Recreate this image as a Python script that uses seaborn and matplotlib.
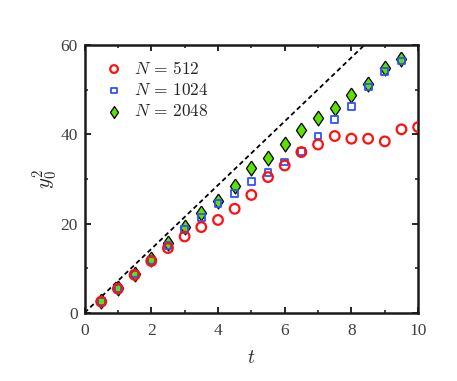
import matplotlib
matplotlib.use("Agg")
import matplotlib.pyplot as plt
import seaborn as sns
import numpy as np
import pandas as pd

t = [0.5, 1.0, 1.5, 2.0, 2.5, 3.0, 3.5, 4.0, 4.5, 5.0,
     5.5, 6.0, 6.5, 7.0, 7.5, 8.0, 8.5, 9.0, 9.5, 10.0]
y_512 = [2.5, 5.4, 8.5, 11.6, 14.5, 17.1, 19.2, 20.8, 23.3, 26.4,
         30.4, 33.0, 36.0, 37.7, 39.6, 39.0, 39.0, 38.4, 41.1, 41.6]
t_b = t[:19]
y_1024 = [2.5, 5.5, 8.7, 11.8, 15.1, 18.6, 21.3, 24.4, 26.8, 29.4,
          31.5, 33.8, 36.2, 39.6, 43.3, 46.3, 50.6, 54.0, 56.4]
y_2048 = [2.6, 5.5, 8.6, 12.1, 15.6, 19.2, 22.3, 25.1, 28.5, 32.4,
          34.7, 37.9, 40.9, 43.7, 45.9, 48.7, 51.3, 54.8, 56.8]
ref_t = [0.0, 10.0]
ref_y = [0.0, 71.5]
labels = [r"$N\,=\,512$", r"$N\,=\,1024$", r"$N\,=\,2048$"]

sns.set_style("ticks")
plt.rcParams["font.family"] = ["Liberation Serif", "DejaVu Serif"]
plt.rcParams["mathtext.fontset"] = "cm"

diamond = [(0, 1), (0.68, 0), (0, -1), (-0.68, 0), (0, 1)]

fig = plt.figure(figsize=(4.57, 3.81), dpi=100)
ax = fig.add_axes([0.185, 0.179, 0.730, 0.703])

sns.lineplot(x=ref_t, y=ref_y, ax=ax, color="black", linestyle=(0, (2.6, 1.8)),
             linewidth=1.3, zorder=1)
sns.scatterplot(x=t, y=y_512, ax=ax, marker="o", s=48, facecolor="none",
                edgecolor="#ff1010", linewidth=1.6, label=labels[0], zorder=4)
sns.scatterplot(x=t_b, y=y_1024, ax=ax, marker="s", s=24, facecolor="none",
                edgecolor="#2f55f5", linewidth=1.3, label=labels[1], zorder=3)
sns.scatterplot(x=t_b, y=y_2048, ax=ax, marker=diamond, s=115, facecolor="#5ee000",
                edgecolor="black", linewidth=0.9, label=labels[2], zorder=2)

ax.set_xlim(0, 10)
ax.set_ylim(0, 60)
ax.set_xticks([0, 2, 4, 6, 8, 10])
ax.set_yticks([0, 20, 40, 60])
ax.set_xticks([1, 3, 5, 7, 9], minor=True)
ax.set_yticks([10, 30, 50], minor=True)
ax.tick_params(which="both", direction="in", top=True, right=True,
               colors="#262626", labelcolor="#404040", labelsize=12.5)
ax.tick_params(which="major", length=4, width=1.4)
ax.tick_params(which="minor", length=2.5, width=1.2)
ax.tick_params(axis="x", which="major", pad=7)
ax.tick_params(axis="y", which="major", pad=5)
for sp in ax.spines.values():
    sp.set_linewidth(1.8)
    sp.set_color("#1a1a1a")

ax.set_xlabel(r"$t$", fontsize=14, labelpad=8)
ax.set_ylabel(r"$y_0^2$", fontsize=15, labelpad=0)

leg = ax.legend(loc="upper left", frameon=False, fontsize=12.5,
                handletextpad=0.35, labelspacing=0.3, borderaxespad=0.5,
                handlelength=1.6, markerscale=0.8)

fig.savefig("out.png", dpi=100)
